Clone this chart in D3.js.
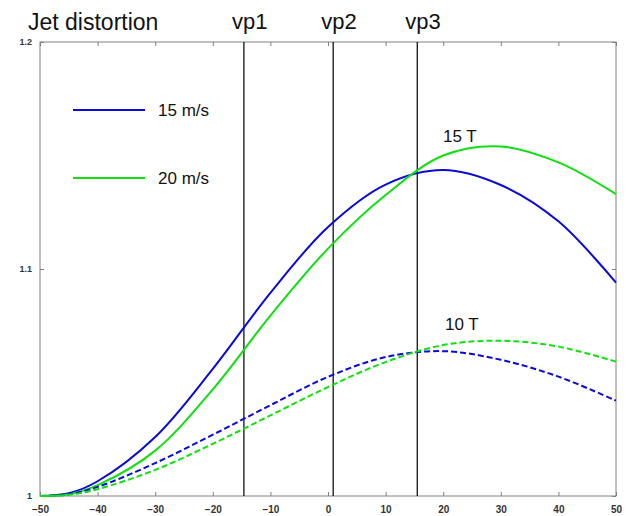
<!DOCTYPE html>
<html>
<head>
<meta charset="utf-8">
<script src="https://cdn.jsdelivr.net/npm/d3@7"></script>
<style>
  body { margin: 0; background: #fff; }
  svg { display: block; font-family: "Liberation Sans", Arial, sans-serif; }
  .tick text { font-size: 10px; font-weight: bold; fill: #333; }
</style>
</head>
<body>
<svg id="chart" width="628" height="516"></svg>
<script>
// sample positions along the x axis
const xs = [-50, -45, -40, -30, -20, -10, 0, 10, 20, 30, 40, 50];

// 15 T curves
const v15_15T = [1.000, 1.0012, 1.0065, 1.026, 1.056, 1.0895, 1.1185, 1.1372, 1.1436, 1.137, 1.121, 1.094];
const v20_15T = [1.000, 1.0008, 1.0048, 1.020, 1.047, 1.0795, 1.109, 1.1326, 1.150, 1.154, 1.147, 1.133];
// 10 T curves
const v15_10T = [1.000, 1.0008, 1.004, 1.0145, 1.027, 1.040, 1.0525, 1.0612, 1.0638, 1.060, 1.0526, 1.042];
const v20_10T = [1.000, 1.0005, 1.003, 1.0115, 1.023, 1.0355, 1.048, 1.059, 1.0665, 1.0684, 1.0658, 1.0592];

const xTicks = [-50, -40, -30, -20, -10, 0, 10, 20, 30, 40, 50];
const yTicks = [1, 1.1, 1.2];

const markers = [
    { name: "vp1", x: -14.6 },
    { name: "vp2", x: 0.9 },
    { name: "vp3", x: 15.5 },
];

const series = [
    { values: v15_15T, color: "#0a0ad8", dash: null },
    { values: v20_15T, color: "#10e010", dash: null },
    { values: v15_10T, color: "#0a0ad8", dash: "6,3" },
    { values: v20_10T, color: "#10e010", dash: "6,3" },
];

const legend = [
    { label: "15 m/s", color: "#0a0ad8" },
    { label: "20 m/s", color: "#10e010" },
];

const svg = d3.select("#chart");
const plotL = 40, plotR = 616, plotT = 42, plotB = 496;

const x = d3.scaleLinear().domain([-50, 50]).range([plotL, plotR]);
const y = d3.scaleLinear().domain([1, 1.2]).range([plotB, plotT]);

// frame
svg.append("rect")
    .attr("x", plotL).attr("y", plotT)
    .attr("width", plotR - plotL).attr("height", plotB - plotT)
    .attr("fill", "none").attr("stroke", "#808080").attr("stroke-width", 1);

// axes, ticks pointing inward like matlab
const xAxisBottom = svg.append("g")
    .attr("transform", `translate(0,${plotB})`)
    .call(d3.axisBottom(x).tickValues(xTicks).tickSizeInner(-4).tickSizeOuter(0).tickPadding(10).tickFormat(d3.format("d")));
const xAxisTop = svg.append("g")
    .attr("transform", `translate(0,${plotT})`)
    .call(d3.axisTop(x).tickValues(xTicks).tickSizeInner(-4).tickSizeOuter(0).tickFormat(""));
const yAxisLeft = svg.append("g")
    .attr("transform", `translate(${plotL},0)`)
    .call(d3.axisLeft(y).tickValues(yTicks).tickSizeInner(-4).tickSizeOuter(0).tickPadding(8).tickFormat(d => d === 1 ? "1" : d3.format(".1f")(d)));
const yAxisRight = svg.append("g")
    .attr("transform", `translate(${plotR},0)`)
    .call(d3.axisRight(y).tickValues(yTicks).tickSizeInner(-4).tickSizeOuter(0).tickFormat(""));

for (const ax of [xAxisBottom, xAxisTop, yAxisLeft, yAxisRight]) {
    ax.select(".domain").remove();
    ax.selectAll(".tick line").attr("stroke", "#808080");
}
yAxisLeft.selectAll(".tick text").style("font-size", "9px");

// marker lines
svg.append("g").selectAll("line")
    .data(markers)
    .join("line")
    .attr("x1", d => x(d.x)).attr("x2", d => x(d.x))
    .attr("y1", plotT).attr("y2", plotB)
    .attr("stroke", "#111").attr("stroke-width", 1.3);

svg.append("g").selectAll("text")
    .data(markers)
    .join("text")
    .attr("x", d => x(d.x) - 12)
    .attr("y", 29)
    .attr("font-size", 22)
    .attr("fill", "#111")
    .text(d => d.name);

// curves
const line = d3.line()
    .x((d, i) => x(xs[i]))
    .y(d => y(d))
    .curve(d3.curveCatmullRom.alpha(0.5));

svg.append("g").selectAll("path")
    .data(series)
    .join("path")
    .attr("d", d => line(d.values))
    .attr("fill", "none")
    .attr("stroke", d => d.color)
    .attr("stroke-width", 2)
    .attr("stroke-dasharray", d => d.dash);

// title
svg.append("text")
    .attr("x", 28).attr("y", 30)
    .attr("font-size", 23)
    .attr("fill", "#111")
    .text("Jet distortion");

// legend
const lg = svg.append("g").selectAll("g")
    .data(legend)
    .join("g")
    .attr("transform", (d, i) => `translate(73,${110 + i * 68})`);
lg.append("line")
    .attr("x1", 0).attr("x2", 72)
    .attr("stroke", d => d.color).attr("stroke-width", 2);
lg.append("text")
    .attr("x", 85).attr("y", 6)
    .attr("font-size", 17)
    .attr("fill", "#111")
    .text(d => d.label);

// curve group labels
svg.append("text").attr("x", 443).attr("y", 142).attr("font-size", 17).attr("fill", "#111").text("15 T");
svg.append("text").attr("x", 445).attr("y", 330).attr("font-size", 17).attr("fill", "#111").text("10 T");
</script>
</body>
</html>
